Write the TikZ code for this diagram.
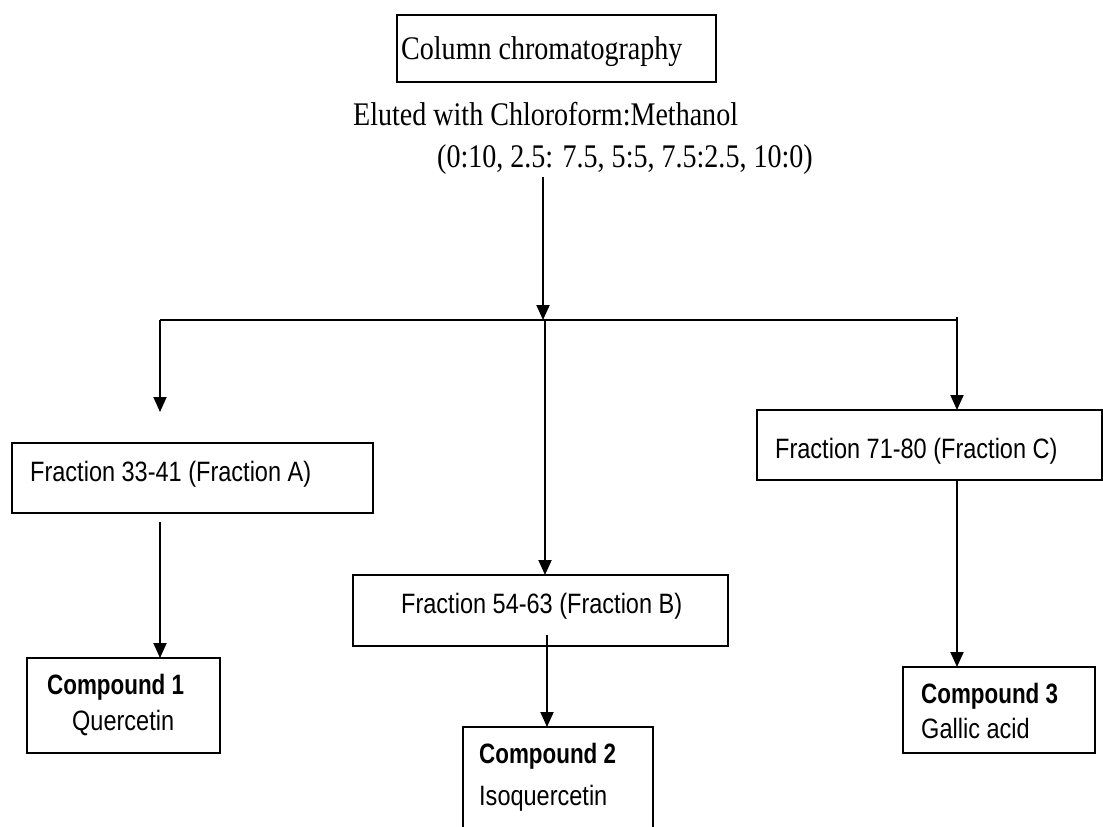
\documentclass[tikz,border=0pt]{standalone}
\usepackage{fontspec}
\setmainfont{Liberation Serif}[FakeStretch=0.85]
\newfontfamily\nsans[FakeStretch=0.84,BoldFeatures={FakeStretch=0.80}]{Liberation Sans}
\usetikzlibrary{arrows.meta}
\begin{document}
\begin{tikzpicture}[x=1pt,y=-1pt,
  font=\fontsize{33}{38}\selectfont,
  ln/.style={line width=1.9pt,draw=black},
  arr/.style={ln,-{Triangle[length=15pt,width=13pt]}},
  boxnode/.style={draw=black,line width=1.9pt,anchor=north west,inner sep=0pt,outer sep=0pt},
  txt/.style={anchor=base west,inner sep=0pt},
  stxt/.style={txt,font=\fontsize{28}{34}\selectfont\nsans},
  btxt/.style={txt,font=\fontsize{28}{34}\selectfont\nsans\bfseries}]
\useasboundingbox (0,0) rectangle (1103,827);

% boxes
\node[boxnode,minimum width=319pt,minimum height=67pt] (top) at (397,15) {};
\node[boxnode,minimum width=361pt,minimum height=70pt] (fa) at (12,443) {};
\node[boxnode,minimum width=375pt,minimum height=71pt] (fb) at (353,575) {};
\node[boxnode,minimum width=345pt,minimum height=70pt] (fc) at (757,410) {};
\node[boxnode,minimum width=193pt,minimum height=95pt] (c1) at (27,658) {};
\node[anchor=north west,inner sep=0pt,outer sep=0pt,minimum width=190pt,minimum height=101pt] (c2) at (463,727) {};
\draw[ln] (c2.south west) -- (c2.north west) -- (c2.north east) -- (c2.south east);
\node[boxnode,minimum width=192pt,minimum height=86pt] (c3) at (903,667) {};

% texts
\node[txt] (ttop) at (401,59) {Column chromatography};
\node[txt] (el1) at (353,125) {Eluted with Chloroform:Methanol};
\node[txt] (el2) at (437,167) {(0:10, 2.5: 7.5, 5:5, 7.5:2.5, 10:0)};
\node[stxt] (tfa) at (30,481) {Fraction 33-41 (Fraction A)};
\node[stxt] (tfb) at (401,613) {Fraction 54-63 (Fraction B)};
\node[stxt] (tfc) at (775,458) {Fraction 71-80 (Fraction C)};
\node[btxt] (t1a) at (47,694) {Compound 1};
\node[stxt] (t1b) at (72,730) {Quercetin};
\node[btxt] (t2a) at (479,763) {Compound 2};
\node[stxt] (t2b) at (479,805) {Isoquercetin};
\node[btxt] (t3a) at (921,703) {Compound 3};
\node[stxt] (t3b) at (921,738) {Gallic acid};

% junctions
\coordinate (ms) at (543,177);
\coordinate (jm) at (543,320);
\coordinate (jl) at (160,320);
\coordinate (jr) at (957,320);
\coordinate (jrt) at (957,317);
\coordinate (jb) at (545,320);
\coordinate (atip) at (160,412);
\coordinate (as) at (160,522);
\coordinate (bs) at (547,635);

% connectors
\draw[arr] (ms) -- (jm);
\draw[ln] (jl) -- (jr);
\draw[arr] (jl) -- (atip);
\draw[arr] (jb) -- (jb |- fb.north);
\draw[arr] (jrt) -- (jr |- fc.north);
\draw[arr] (as) -- (as |- c1.north);
\draw[arr] (bs) -- (bs |- c2.north);
\draw[arr] (jr |- fc.south) -- (jr |- c3.north);
\end{tikzpicture}
\end{document}
